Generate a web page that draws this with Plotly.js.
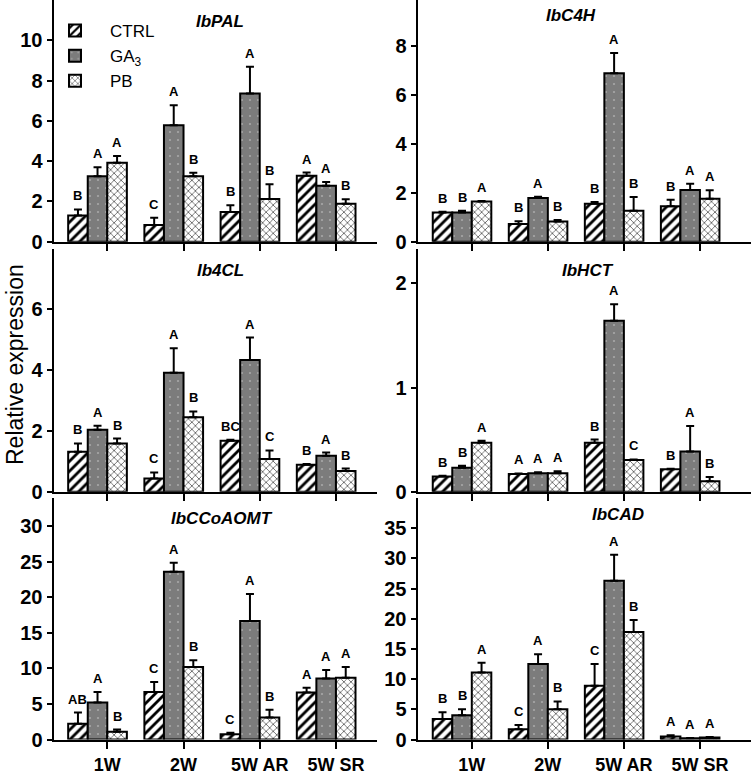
<!DOCTYPE html>
<html>
<head>
<meta charset="utf-8">
<script src="https://cdn.plot.ly/plotly-3.0.1.min.js"></script>
<style>html,body{margin:0;padding:0;background:#fff;}#chart{width:756px;height:774px;}</style>
</head>
<body>
<div id="chart"></div>
<script>
// ---- data ----
const groups = ["1W", "2W", "5W AR", "5W SR"];
const seriesNames = ["CTRL", "GA<sub>3</sub>", "PB"];
const genes = ["IbPAL", "IbC4H", "Ib4CL", "IbHCT", "IbCCoAOMT", "IbCAD"];

const palCtrl = [1.30, 0.83, 1.47, 3.28];
const palCtrlErr = [0.30, 0.36, 0.34, 0.15];
const palGa = [3.25, 5.78, 7.36, 2.78];
const palGaErr = [0.45, 1.00, 1.32, 0.18];
const palPb = [3.92, 3.25, 2.12, 1.88];
const palPbErr = [0.33, 0.17, 0.73, 0.23];
const palLetters = [["B","C","B","A"],["A","A","A","A"],["A","B","B","B"]];

const c4hCtrl = [1.20, 0.72, 1.55, 1.45];
const c4hCtrlErr = [0.03, 0.12, 0.08, 0.27];
const c4hGa = [1.20, 1.79, 6.90, 2.12];
const c4hGaErr = [0.07, 0.05, 0.83, 0.25];
const c4hPb = [1.65, 0.83, 1.27, 1.76];
const c4hPbErr = [0.02, 0.06, 0.56, 0.35];
const c4hLetters = [["B","B","B","B"],["B","A","A","A"],["A","B","B","A"]];

const cl4Ctrl = [1.31, 0.43, 1.67, 0.88];
const cl4CtrlErr = [0.27, 0.20, 0.03, 0.03];
const cl4Ga = [2.03, 3.90, 4.31, 1.18];
const cl4GaErr = [0.13, 0.80, 0.74, 0.10];
const cl4Pb = [1.58, 2.44, 1.07, 0.68];
const cl4PbErr = [0.16, 0.19, 0.28, 0.08];
const cl4Letters = [["B","C","BC","B"],["A","A","A","A"],["B","B","C","B"]];

const hctCtrl = [0.145, 0.170, 0.470, 0.215];
const hctCtrlErr = [0.007, 0.005, 0.030, 0.005];
const hctGa = [0.230, 0.177, 1.640, 0.385];
const hctGaErr = [0.020, 0.010, 0.160, 0.245];
const hctPb = [0.470, 0.177, 0.305, 0.100];
const hctPbErr = [0.020, 0.020, 0.005, 0.040];
const hctLetters = [["B","A","B","B"],["B","A","A","A"],["A","A","C","B"]];

const ccoCtrl = [2.2, 6.7, 0.75, 6.6];
const ccoCtrlErr = [1.6, 1.4, 0.20, 0.7];
const ccoGa = [5.2, 23.6, 16.7, 8.6];
const ccoGaErr = [1.5, 1.3, 3.8, 1.2];
const ccoPb = [1.1, 10.2, 3.1, 8.7];
const ccoPbErr = [0.3, 0.95, 1.1, 1.5];
const ccoLetters = [["AB","C","C","A"],["A","A","A","A"],["B","B","B","A"]];

const cadCtrl = [3.4, 1.7, 8.9, 0.5];
const cadCtrlErr = [1.1, 0.7, 3.6, 0.2];
const cadGa = [4.0, 12.5, 26.3, 0.2];
const cadGaErr = [1.0, 1.6, 4.3, 0.05];
const cadPb = [11.1, 5.0, 17.8, 0.35];
const cadPbErr = [1.6, 1.3, 2.0, 0.05];
const cadLetters = [["B","C","C","A"],["B","A","A","A"],["A","B","B","A"]];

const yTickVals = [[0,2,4,6,8,10],[0,2,4,6,8],[0,2,4,6],[0,1,2],[0,5,10,15,20,25,30],[0,5,10,15,20,25,30,35]];

// ---- layout helpers ----
const W = 756, H = 774;
const panels = [
  {vals:[palCtrl,palGa,palPb], errs:[palCtrlErr,palGaErr,palPbErr], letters:palLetters, ymax:12.0, col:0, row:0, tx:0.514, ty:0.909},
  {vals:[c4hCtrl,c4hGa,c4hPb], errs:[c4hCtrlErr,c4hGaErr,c4hPbErr], letters:c4hLetters, ymax:9.9, col:1, row:0, tx:0.46, ty:0.935},
  {vals:[cl4Ctrl,cl4Ga,cl4Pb], errs:[cl4CtrlErr,cl4GaErr,cl4PbErr], letters:cl4Letters, ymax:7.95, col:0, row:1, tx:0.514, ty:0.913},
  {vals:[hctCtrl,hctGa,hctPb], errs:[hctCtrlErr,hctGaErr,hctPbErr], letters:hctLetters, ymax:2.33, col:1, row:1, tx:0.51, ty:0.913},
  {vals:[ccoCtrl,ccoGa,ccoPb], errs:[ccoCtrlErr,ccoGaErr,ccoPbErr], letters:ccoLetters, ymax:34.0, col:0, row:2, tx:0.52, ty:0.917},
  {vals:[cadCtrl,cadGa,cadPb], errs:[cadCtrlErr,cadGaErr,cadPbErr], letters:cadLetters, ymax:40.0, col:1, row:2, tx:0.60, ty:0.93}
];
const colPx = [[54, 377], [418, 751]];
const rowPx = [[0, 241.7], [249, 491.7], [498, 739.5]];
const xRanges = [[-0.571, 3.667], [-0.579, 3.80]];
const barW = 0.2567;
const FONT = "Arial, 'Liberation Sans', sans-serif";

const patterns = [
  {shape: "/", fgcolor: "#000", bgcolor: "#fff", size: 7, solidity: 0.4, fillmode: "replace", fgopacity: 1},
  {shape: ".", fgcolor: "#a8a8a8", bgcolor: "#7c7c7c", size: 8, solidity: 0.06, fillmode: "replace", fgopacity: 1},
  {shape: "x", fgcolor: "#505050", bgcolor: "#fff", size: 5, solidity: 0.28, fillmode: "replace", fgopacity: 1}
];
const colors = ["#ffffff", "#7c7c7c", "#ffffff"];

const traces = [];
const annotations = [];
const layout = {
  width: W, height: H,
  margin: {l: 0, r: 0, t: 0, b: 0},
  paper_bgcolor: "#fff", plot_bgcolor: "rgba(0,0,0,0)",
  barmode: "group", bargap: 1 - 3 * barW, bargroupgap: 0,
  showlegend: true,
  legend: {x: 40 / W, y: 1 - 13 / H, xanchor: "left", yanchor: "top",
           font: {family: FONT, size: 17, color: "#000"}, bgcolor: "rgba(0,0,0,0)",
           tracegroupgap: 0, itemwidth: 60},
  font: {family: FONT, color: "#000"}
};

panels.forEach((p, i) => {
  const n = i + 1;
  const xa = n === 1 ? "x" : "x" + n;
  const ya = n === 1 ? "y" : "y" + n;
  const xKey = n === 1 ? "xaxis" : "xaxis" + n;
  const yKey = n === 1 ? "yaxis" : "yaxis" + n;
  const cp = colPx[p.col], rp = rowPx[p.row];
  const bottom = p.row === 2;
  layout[xKey] = {
    domain: [cp[0] / W, cp[1] / W], range: xRanges[p.col], anchor: ya,
    showline: true, linewidth: 2.5, linecolor: "#000", mirror: false,
    ticks: "outside", ticklen: 7, tickwidth: 2, tickcolor: "#000",
    tickvals: groups.map((g, j) => j + barW / 2),
    ticktext: groups, showticklabels: bottom,
    tickfont: {family: FONT, size: 18, weight: "bold", color: "#000"},
    showgrid: false, zeroline: false, fixedrange: true
  };
  layout[yKey] = {
    domain: [1 - rp[1] / H, 1 - rp[0] / H], range: [0, p.ymax], anchor: xa,
    showline: true, linewidth: 2.5, linecolor: "#000",
    ticks: "outside", ticklen: 5, tickwidth: 2, tickcolor: "#000",
    tickvals: yTickVals[i],
    tickfont: {family: FONT, size: 20, weight: "bold", color: "#000"},
    showgrid: false, zeroline: false, fixedrange: true
  };
  for (let k = 0; k < 3; k++) {
    traces.push({
      type: "bar", x: groups.map((g, j) => j), y: p.vals[k],
      xaxis: xa, yaxis: ya, name: seriesNames[k], legendgroup: "s" + k,
      showlegend: i === 0,
      marker: {color: colors[k], line: {color: "#000", width: 2}, pattern: patterns[k]},
      error_y: {type: "data", symmetric: false, array: p.errs[k], arrayminus: p.errs[k].map(() => 0),
                color: "#000", thickness: 2, width: 4},
      hoverinfo: "skip"
    });
    p.vals[k].forEach((v, j) => {
      annotations.push({
        xref: xa, yref: ya, x: j + (k - 1) * barW, y: v + p.errs[k][j],
        text: p.letters[k][j], showarrow: false, yanchor: "bottom", xanchor: "center", yshift: 4,
        font: {family: FONT, size: 13, weight: "bold", color: "#000"}
      });
    });
  }
  annotations.push({
    xref: xa + " domain", yref: ya + " domain", x: p.tx, y: p.ty,
    text: "<b><i>" + genes[i] + "</i></b>", showarrow: false, xanchor: "center", yanchor: "middle",
    font: {family: FONT, size: 17, color: "#000"}
  });
});

annotations.push({
  xref: "paper", yref: "paper", x: 15 / W, y: 1 - 365 / H, textangle: -90,
  text: "Relative expression", showarrow: false, xanchor: "center", yanchor: "middle",
  font: {family: FONT, size: 23, color: "#000"}
});
layout.annotations = annotations;

Plotly.newPlot("chart", traces, layout, {displayModeBar: false, staticPlot: true});
</script>
</body>
</html>
